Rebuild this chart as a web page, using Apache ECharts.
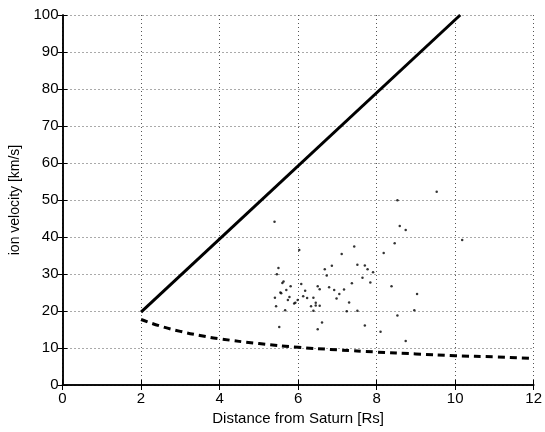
<!DOCTYPE html>
<html>
<head>
<meta charset="utf-8">
<script src="https://cdn.jsdelivr.net/npm/echarts@6/dist/echarts.min.js"></script>
<style>html,body{margin:0;padding:0;background:#fff}#c{width:545px;height:432px}</style>
</head>
<body>
<div id="c"></div>
<script>
// Ion velocity measurements [distance Rs, velocity km/s]
const ionX = [5.40,6.03,5.50,5.46,5.63,5.60,5.81,5.70,5.55,5.57,5.78,5.41,5.74,5.93,5.90,5.99,5.44,5.67,5.52,6.08,6.18,6.13,6.23,6.39,6.33,6.39,6.45,6.45,6.55,6.50,6.55,6.50,6.61,6.68,6.86,6.73,6.79,6.92,7.05,6.98,7.17,7.11,7.43,7.30,7.24,7.37,7.51,7.51,7.70,7.77,7.64,7.84,7.91,7.70,9.53,8.53,8.59,8.74,10.18,8.46,8.18,8.38,9.03,8.96,8.53,8.10,8.74];
const ionY = [44.1,36.5,31.6,29.9,28.0,27.6,26.7,25.7,25.0,24.8,23.8,23.6,23.0,22.2,22.0,23.0,21.3,20.2,15.7,27.3,25.5,24.0,23.5,23.6,21.3,20.1,22.2,21.5,21.4,26.7,25.9,15.1,16.9,31.3,32.2,29.6,26.4,25.7,24.6,23.4,25.8,35.4,37.4,22.3,19.9,27.5,32.5,20.1,32.3,31.3,29.0,27.7,30.5,16.1,52.2,49.9,43.0,41.9,39.2,38.3,35.7,26.7,24.6,20.2,18.8,14.4,11.9];
// Corotation line (solid)
const coroX = [2.0, 10.13];
const coroY = [19.7, 100];
// Keplerian curve (dashed)
const kepX = [2.0,2.5,3.0,3.5,4.0,5.0,6.0,7.0,8.0,9.0,10.0,11.0,12.0];
const kepY = [17.7,15.9,14.5,13.4,12.5,11.2,10.2,9.5,8.9,8.4,7.9,7.6,7.2];
const xTicks = [0,2,4,6,8,10,12];
const yTicks = [0,10,20,30,40,50,60,70,80,90,100];

const zip = (a,b) => a.map((v,i)=>[v,b[i]]);
const font = 'Liberation Sans';
const chart = echarts.init(document.getElementById('c'), null, {renderer:'canvas'});
const gridLine = {show:true, lineStyle:{color:'#555', type:[1,3], width:1}};
chart.setOption({
  animation:false,
  backgroundColor:'#fff',
  grid:{left:62.5, right:10, top:15, bottom:47},
  xAxis:[{
    type:'value', min:xTicks[0], max:xTicks[xTicks.length-1], interval:2,
    name:'Distance from Saturn [Rs]', nameLocation:'middle', nameGap:22,
    nameTextStyle:{fontFamily:font, fontSize:15, color:'#000'},
    axisLine:{lineStyle:{color:'#000', width:1.5}},
    axisTick:{inside:true, length:5, lineStyle:{color:'#000'}},
    axisLabel:{fontFamily:font, fontSize:15, color:'#000', margin:6},
    splitLine:gridLine
  },{
    type:'value', min:xTicks[0], max:xTicks[xTicks.length-1], interval:2, position:'top',
    axisLine:{lineStyle:{color:'#000', width:1.5}},
    axisTick:{inside:true, length:5, lineStyle:{color:'#000'}},
    axisLabel:{show:false}, splitLine:{show:false}
  }],
  yAxis:[{
    type:'value', min:yTicks[0], max:yTicks[yTicks.length-1], interval:10,
    name:'ion velocity [km/s]', nameLocation:'middle', nameGap:38,
    nameTextStyle:{fontFamily:font, fontSize:14, color:'#000'},
    axisLine:{lineStyle:{color:'#000', width:1.5}},
    axisTick:{inside:true, length:5, lineStyle:{color:'#000'}},
    axisLabel:{fontFamily:font, fontSize:15, color:'#000', margin:4},
    splitLine:gridLine
  },{
    type:'value', min:yTicks[0], max:yTicks[yTicks.length-1], interval:10, position:'right',
    axisLine:{show:true, lineStyle:{color:'#000', width:1.5}},
    axisTick:{show:true, inside:true, length:5, lineStyle:{color:'#000'}},
    axisLabel:{show:false}, splitLine:{show:false}
  }],
  series:[
    {type:'line', data:zip(coroX,coroY), showSymbol:false, lineStyle:{color:'#000', width:3}},
    {type:'line', data:zip(kepX,kepY), smooth:true, showSymbol:false, lineStyle:{color:'#000', width:3, type:[7,5]}},
    {type:'scatter', data:zip(ionX,ionY), symbol:'circle', symbolSize:2.5, itemStyle:{color:'#000'}}
  ]
});
</script>
</body>
</html>
